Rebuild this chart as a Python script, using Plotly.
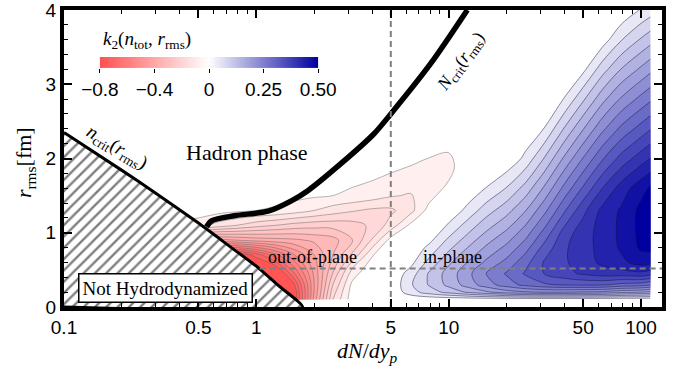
import numpy as np
import plotly.graph_objects as go

# ---------------- axis ticks ----------------
X_TICKS = [0.1, 0.5, 1, 5, 10, 50, 100]
X_TICKTEXT = ["0.1", "0.5", "1", "5", "10", "50", "100"]
X_MINOR = [0.2, 0.3, 0.4, 0.6, 0.7, 0.8, 0.9, 2, 3, 4, 6, 7, 8, 9,
           20, 30, 40, 60, 70, 80, 90]
Y_TICKS = [0, 1, 2, 3, 4]
Y_MINOR = [0.2, 0.4, 0.6, 0.8, 1.2, 1.4, 1.6, 1.8, 2.2, 2.4, 2.6, 2.8,
           3.2, 3.4, 3.6, 3.8]

# ---------------- colour bar ----------------
CBAR_VALUES = [-0.8, -0.4, 0, 0.25, 0.5]
CBAR_TEXT = ["\u22120.8", "\u22120.4", "0", "0.25", "0.50"]

# ---------------- n_crit boundary (hatched region) ----------------
ncrit_x = [0.1, 0.2, 0.286, 0.5, 0.75, 1.0, 1.3, 1.74]
ncrit_r = [2.35, 1.84, 1.57, 1.13, 0.79, 0.55, 0.29, 0.0]

# ---------------- N_crit curve ----------------
Ncrit_x = [0.551, 0.585, 0.769, 1.15, 1.52, 1.86, 2.75, 4.08, 5.0, 8.07, 12.5]
Ncrit_r = [1.08, 1.16, 1.23, 1.29, 1.43, 1.57, 1.93, 2.33, 2.60, 3.28, 4.0]

# dashed guide lines
vline_x = 5.0
hline_r = 0.52
hline_x0 = 1.04

# ---------------- k2 field, out-of-plane (negative) part ----------------
red_x = [0.4, 0.5, 0.63, 0.79, 1.0, 1.26, 1.58, 2.0, 2.5, 3.16, 4.0, 5.0, 6.3, 7.9, 10.0, 12.6]
red_r = [0.1, 0.3, 0.5, 0.7, 0.9, 1.1, 1.3, 1.5, 1.7, 1.9, 2.1, 2.3]
red_k2 = [
    [-0.85, -0.85, -0.85, -0.85, -0.85, -0.85, -0.80, -0.43, -0.15, -0.02, 0, 0, 0, 0, 0, 0],
    [-0.85, -0.85, -0.85, -0.85, -0.85, -0.85, -0.75, -0.45, -0.20, -0.035, 0, 0, 0, 0, 0, 0],
    [-0.85, -0.85, -0.85, -0.85, -0.85, -0.80, -0.62, -0.43, -0.26, -0.09, -0.01, 0, 0, 0, 0, 0],
    [-0.80, -0.80, -0.80, -0.80, -0.73, -0.62, -0.50, -0.40, -0.30, -0.19, -0.055, -0.005, 0, 0, 0, 0],
    [-0.42, -0.42, -0.42, -0.40, -0.38, -0.37, -0.36, -0.34, -0.32, -0.25, -0.145, -0.03, 0, 0, 0, 0],
    [-0.07, -0.08, -0.12, -0.15, -0.18, -0.20, -0.22, -0.23, -0.23, -0.22, -0.19, -0.13, -0.04, -0.005, 0, 0],
    [-0.01, -0.02, -0.03, -0.04, -0.05, -0.058, -0.075, -0.10, -0.125, -0.145, -0.16, -0.16, -0.12, -0.03, 0, 0],
    [0, -0.005, -0.012, -0.018, -0.024, -0.03, -0.036, -0.043, -0.05, -0.06, -0.075, -0.095, -0.105, -0.07, -0.015, 0],
    [0, 0, -0.004, -0.008, -0.012, -0.017, -0.022, -0.028, -0.035, -0.042, -0.05, -0.06, -0.072, -0.075, -0.05, -0.005],
    [0, 0, 0, -0.003, -0.006, -0.01, -0.014, -0.018, -0.023, -0.028, -0.034, -0.041, -0.05, -0.062, -0.065, -0.015],
    [0, 0, 0, 0, 0, 0, 0, -0.005, -0.008, -0.012, -0.017, -0.022, -0.03, -0.04, -0.048, -0.02],
    [0, 0, 0, 0, 0, 0, 0, 0, 0, 0, 0, 0, -0.01, -0.018, -0.025, -0.01],
]

# ---------------- k2 field, in-plane (positive) part ----------------
blue_x = [5.0, 6.3, 7.9, 10, 12.6, 15.8, 20, 25, 31.6, 40, 50, 63, 79, 100, 112]
blue_r = [0.1, 0.2, 0.3, 0.45, 0.6, 0.8, 1.0, 1.3, 1.6, 2.0, 2.4, 2.8, 3.2, 3.6, 4.0]
blue_k2 = [
    [0, 0, 0, 0, 0, 0, 0, 0, 0, 0, 0, 0, 0, 0, 0],
    [0, 0.048, 0.082, 0.111, 0.14, 0.164, 0.188, 0.2, 0.207, 0.207, 0.202, 0.196, 0.18, 0.17, 0.16],
    [0, 0.059, 0.103, 0.145, 0.186, 0.225, 0.258, 0.285, 0.305, 0.314, 0.316, 0.315, 0.299, 0.292, 0.279],
    [0, 0.045, 0.104, 0.15, 0.195, 0.243, 0.279, 0.314, 0.347, 0.368, 0.386, 0.398, 0.40, 0.406, 0.396],
    [0, 0.017, 0.076, 0.128, 0.172, 0.214, 0.251, 0.297, 0.35, 0.375, 0.399, 0.422, 0.442, 0.464, 0.46],
    [0, 0, 0.039, 0.091, 0.136, 0.177, 0.214, 0.26, 0.324, 0.375, 0.40, 0.428, 0.455, 0.491, 0.496],
    [0, 0, 0.002, 0.054, 0.098, 0.14, 0.177, 0.223, 0.288, 0.361, 0.40, 0.428, 0.458, 0.495, 0.505],
    [0, 0, 0, 0, 0.043, 0.085, 0.122, 0.168, 0.232, 0.306, 0.37, 0.425, 0.455, 0.495, 0.505],
    [0, 0, 0, 0, 0, 0.032, 0.067, 0.113, 0.177, 0.251, 0.315, 0.38, 0.431, 0.472, 0.49],
    [0, 0, 0, 0, 0, 0, 0, 0.039, 0.104, 0.177, 0.242, 0.306, 0.358, 0.398, 0.416],
    [0, 0, 0, 0, 0, 0, 0, 0, 0.032, 0.104, 0.168, 0.232, 0.284, 0.324, 0.343],
    [0, 0, 0, 0, 0, 0, 0, 0, 0, 0.032, 0.094, 0.159, 0.21, 0.251, 0.269],
    [0, 0, 0, 0, 0, 0, 0, 0, 0, 0, 0.021, 0.085, 0.137, 0.177, 0.196],
    [0, 0, 0, 0, 0, 0, 0, 0, 0, 0, 0, 0.012, 0.063, 0.104, 0.122],
    [0, 0, 0, 0, 0, 0, 0, 0, 0, 0, 0, 0, 0, 0.033, 0.048],
]

# ---------------- colours ----------------
ZMIN, ZMAX = -0.8, 0.5
RED = (255, 80, 80)
BLUE = (0, 0, 160)
TRANSPARENT = "rgba(255,255,255,0)"


def k2_color(z):
    if z < 0:
        f = min(1.0, -z / 0.8)
        c = RED
    else:
        f = min(1.0, z / 0.5)
        c = BLUE
    rgb = [round(255 + f * (ci - 255)) for ci in c]
    return "rgb(%d,%d,%d)" % tuple(rgb)


def band_scale(start, size, n, sign=1.0):
    """Colour stops so that every contour band gets the colour of its mid value.
    The lowest (outside) band is transparent."""
    stops = []
    for j in range(n + 1):
        zc = start - size / 2 + j * size
        col = TRANSPARENT if j == 0 else k2_color(sign * zc)
        stops.append([j / n, col])
    return stops


# contour levels (magnitude of k2)
R_START, R_SIZE, R_N = 0.05, 0.05, 15
B_START, B_SIZE, B_N = 0.03, 0.035, 14

fig = go.Figure()

# out-of-plane part: drawn with |k2| so the outside band can stay transparent
fig.add_trace(go.Contour(
    x=red_x, y=red_r, z=(-np.array(red_k2)).tolist(),
    colorscale=band_scale(R_START, R_SIZE, R_N, sign=-1.0),
    contours=dict(start=R_START, end=R_START + (R_N - 1) * R_SIZE + R_SIZE / 2,
                  size=R_SIZE, coloring="fill", showlines=True),
    line=dict(color="rgba(90,90,90,0.55)", width=0.8, smoothing=1.0),
    showscale=False, hoverinfo="skip",
))

fig.add_trace(go.Contour(
    x=blue_x, y=blue_r, z=blue_k2,
    colorscale=band_scale(B_START, B_SIZE, B_N),
    contours=dict(start=B_START, end=B_START + (B_N - 1) * B_SIZE + B_SIZE / 2,
                  size=B_SIZE, coloring="fill", showlines=True),
    line=dict(color="rgba(20,20,60,0.6)", width=0.8, smoothing=1.0),
    showscale=False, hoverinfo="skip",
))

# hatched "not hydrodynamized" region
fig.add_trace(go.Scatter(
    x=ncrit_x + [ncrit_x[0]], y=ncrit_r + [0.0],
    mode="lines", fill="toself", fillcolor="white",
    fillpattern=dict(shape="/", fgcolor="black", bgcolor="white", size=8, solidity=0.3),
    line=dict(color="black", width=3, shape="spline", smoothing=0.5),
    showlegend=False, hoverinfo="skip",
))

# N_crit curve
fig.add_trace(go.Scatter(
    x=Ncrit_x, y=Ncrit_r, mode="lines",
    line=dict(color="black", width=5.5, shape="spline", smoothing=0.8),
    showlegend=False, hoverinfo="skip",
))

# dashed guides
fig.add_trace(go.Scatter(
    x=[vline_x, vline_x], y=[0, 4], mode="lines",
    line=dict(color="rgb(128,128,128)", width=2, dash="6px,4px"),
    showlegend=False, hoverinfo="skip",
))
fig.add_trace(go.Scatter(
    x=[hline_x0, 140], y=[hline_r, hline_r], mode="lines",
    line=dict(color="rgb(128,128,128)", width=2, dash="6px,4px"),
    showlegend=False, hoverinfo="skip",
))

# colour bar drawn as a small heatmap with a piecewise-linear scale
cb_pos = np.linspace(0, 1, 261)
cb_val = np.interp(cb_pos, [0, 0.5, 1], [CBAR_VALUES[0], 0, CBAR_VALUES[-1]])
cb_tickpos = np.interp(CBAR_VALUES, [CBAR_VALUES[0], 0, CBAR_VALUES[-1]], [0, 0.5, 1])
CONT_SCALE = [[0, "rgb(255,80,80)"], [-ZMIN / (ZMAX - ZMIN), "rgb(255,255,255)"],
              [1, "rgb(0,0,160)"]]
fig.add_trace(go.Heatmap(
    x=cb_pos, y=[0], z=[cb_val], zmin=ZMIN, zmax=ZMAX,
    colorscale=CONT_SCALE, showscale=False, hoverinfo="skip",
    xaxis="x2", yaxis="y2",
))

TICKFONT = dict(family="Liberation Sans, Arial, sans-serif", size=19, color="black")
SERIF = "Liberation Serif, Times New Roman, serif"

fig.update_layout(
    width=689, height=375,
    margin=dict(l=64, r=27, t=10, b=68),
    paper_bgcolor="white", plot_bgcolor="white",
    showlegend=False,
    xaxis=dict(
        type="log", range=[-1, 2.109], automargin=False, ticklabeloverflow="allow",
        tickmode="array", tickvals=X_TICKS, ticktext=X_TICKTEXT,
        ticks="inside", ticklen=8, tickwidth=1.5, tickcolor="black",
        showline=True, linewidth=4, linecolor="black", mirror="allticks",
        showgrid=False, zeroline=False, tickfont=TICKFONT,
        minor=dict(tickmode="array", tickvals=X_MINOR, ticks="inside", ticklen=4,
                   tickwidth=1, tickcolor="black", showgrid=False),
    ),
    yaxis=dict(
        range=[0, 4], automargin=False, ticklabeloverflow="allow",
        tickmode="array", tickvals=Y_TICKS,
        ticks="inside", ticklen=8, tickwidth=1.5, tickcolor="black",
        showline=True, linewidth=4, linecolor="black", mirror="allticks",
        showgrid=False, zeroline=False, tickfont=TICKFONT,
        minor=dict(tickmode="array", tickvals=Y_MINOR, ticks="inside", ticklen=4,
                   tickwidth=1, tickcolor="black", showgrid=False),
    ),
    xaxis2=dict(
        domain=[0.060, 0.425], anchor="y2", range=[0, 1], automargin=False,
        tickmode="array", tickvals=list(cb_tickpos), ticktext=CBAR_TEXT,
        ticks="outside", ticklen=4, tickwidth=1, tickcolor="black",
        showline=False, showgrid=False, zeroline=False, tickfont=TICKFONT,
    ),
    yaxis2=dict(domain=[0.805, 0.842], anchor="x2", range=[-0.5, 0.5],
                visible=False, automargin=False),
)


def label(text, x, y, size, angle=0, **kw):
    fig.add_annotation(text=text, x=x, y=y, xref="paper", yref="paper",
                       xanchor=kw.pop("xanchor", "center"), yanchor="middle",
                       showarrow=False, textangle=angle,
                       font=dict(family=SERIF, size=size, color="black"), **kw)


label("Hadron phase", 0.306, 0.519, 22)
label("out-of-plane", 0.416, 0.168, 18)
label("in-plane", 0.649, 0.168, 18)
label("<i>n</i><sub>crit</sub>(<i>r</i><sub>rms</sub>)", 0.088, 0.535, 19, angle=31)
label("<i>N</i><sub>crit</sub>(<i>r</i><sub>rms</sub>)", 0.666, 0.825, 18, angle=-54)
label("Not Hydrodynamized", 0.169, 0.064, 19, bgcolor="white", bordercolor="black",
      borderwidth=1.5, borderpad=3)
label("<i>k</i><sub>2</sub>(<i>n</i><sub>tot</sub>, <i>r</i><sub>rms</sub>)",
      0.062, 0.899, 19, xanchor="left")
label("<i>r</i><sub>rms</sub>[fm]", -0.065, 0.485, 22, angle=-90)
label("<i>dN</i>/<i>dy</i><sub><i>p</i></sub>", 0.507, -0.152, 22)

fig.write_html("out.html", config={"displayModeBar": False},
               post_script="document.body.style.margin='0px';")
